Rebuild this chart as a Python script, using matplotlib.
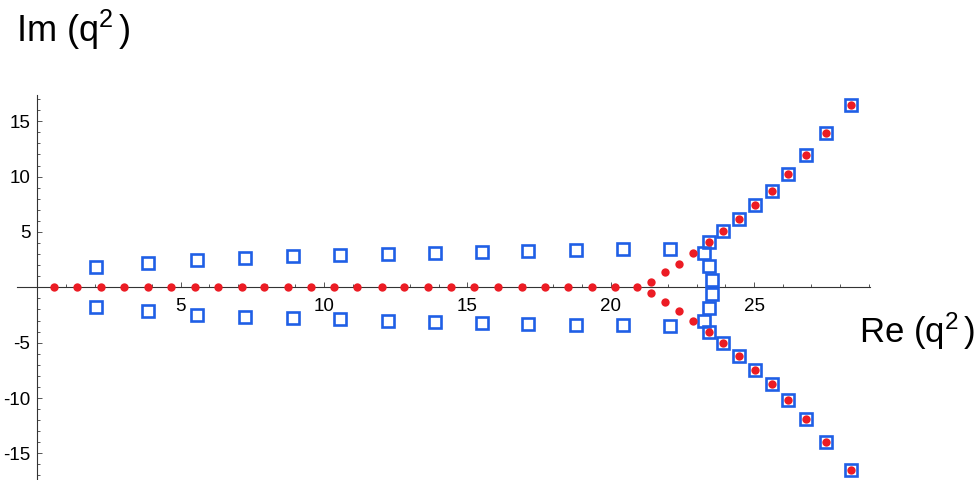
import numpy as np
import matplotlib
matplotlib.use("Agg")
import matplotlib.pyplot as plt
from matplotlib.ticker import FixedLocator

plt.rcParams['font.family'] = ['Liberation Sans', 'DejaVu Sans']
plt.rcParams['mathtext.fontset'] = 'custom'
plt.rcParams['mathtext.rm'] = 'Liberation Sans'
plt.rcParams['mathtext.it'] = 'Liberation Sans'
plt.rcParams['axes.unicode_minus'] = False

# red dots lying on the real axis
red_axis_re = [0.58, 1.39, 2.23, 3.02, 3.86, 4.65, 5.50, 6.29, 7.13, 7.90,
               8.74, 9.54, 10.35, 11.16, 12.01, 12.80, 13.63, 14.43, 15.23,
               16.06, 16.89, 17.71, 18.52, 19.33, 20.15, 20.90]

# red dots that leave the axis (upper half, lower half is the conjugate)
red_branch_re = [21.40, 21.89, 22.38, 22.88, 23.41, 23.93, 24.47, 25.04,
                 25.63, 26.19, 26.82, 27.49, 28.37]
red_branch_im = [0.52, 1.34, 2.15, 3.08, 4.06, 5.05, 6.17, 7.44,
                 8.72, 10.22, 11.92, 13.93, 16.50]

# blue squares (upper half, lower half is the conjugate)
blue_re = [2.03, 3.85, 5.56, 7.24, 8.90, 10.55, 12.22, 13.87, 15.50, 17.12,
           18.79, 20.42, 22.06, 23.25, 23.43, 23.54,
           23.41, 23.93, 24.47, 25.04, 25.63, 26.19, 26.82, 27.49, 28.37]
blue_im = [1.79, 2.17, 2.48, 2.65, 2.80, 2.90, 3.05, 3.12, 3.21, 3.30,
           3.38, 3.45, 3.48, 3.08, 1.88, 0.62,
           4.06, 5.05, 6.17, 7.44, 8.72, 10.22, 11.92, 13.93, 16.50]

blue = '#1f5fe6'
red = '#ec1c24'

fig = plt.figure(figsize=(9.78, 4.8), dpi=100)
ax = fig.add_axes([0, 0, 1, 1])
ax.patch.set_alpha(0)

bre = np.array(blue_re)
bim = np.array(blue_im)
ax.plot(np.r_[bre, bre], np.r_[bim, -bim], 's', ms=9, mfc='none',
        mec=blue, mew=1.9, ls='none', zorder=3, clip_on=False)

rre = np.array(red_branch_re)
rim = np.array(red_branch_im)
ax.plot(np.r_[red_axis_re, rre, rre],
        np.r_[np.zeros(len(red_axis_re)), rim, -rim],
        'o', ms=6, color=red, mec='none', ls='none', zorder=4, clip_on=False)

ax.set_xlim(-1.3045, 32.808)
ax.set_ylim(-17.407, 25.953)

for s in ['top', 'right']:
    ax.spines[s].set_visible(False)
for s in ['left', 'bottom']:
    ax.spines[s].set_position(('data', 0))
    ax.spines[s].set_color('#333333')
    ax.spines[s].set_linewidth(0.8)
ax.spines['bottom'].set_bounds(-0.7, 29.05)
ax.spines['left'].set_bounds(-17.41, 17.37)

ax.xaxis.set_major_locator(FixedLocator([5, 10, 15, 20, 25]))
ax.xaxis.set_minor_locator(FixedLocator(range(1, 30)))
ax.yaxis.set_major_locator(FixedLocator([-15, -10, -5, 5, 10, 15]))
ax.yaxis.set_minor_locator(FixedLocator([v for v in range(-17, 18) if v != 0]))

ax.tick_params(which='both', direction='in', color='#555555', width=0.7,
               labelsize=13.5, labelcolor='black')
ax.tick_params(which='major', length=3.5)
ax.tick_params(which='minor', length=2)
ax.tick_params(axis='x', pad=8)
ax.tick_params(axis='y', pad=5)

fig.text(16 / 978, 1 - 41.7 / 480, r'Im (q$^{2}\,$)', fontsize=26,
         ha='left', va='baseline')
fig.text(975 / 978, 1 - 343.3 / 480, r'Re (q$^{2}\,$)', fontsize=25,
         ha='right', va='baseline')

fig.savefig('out.png', dpi=100)
